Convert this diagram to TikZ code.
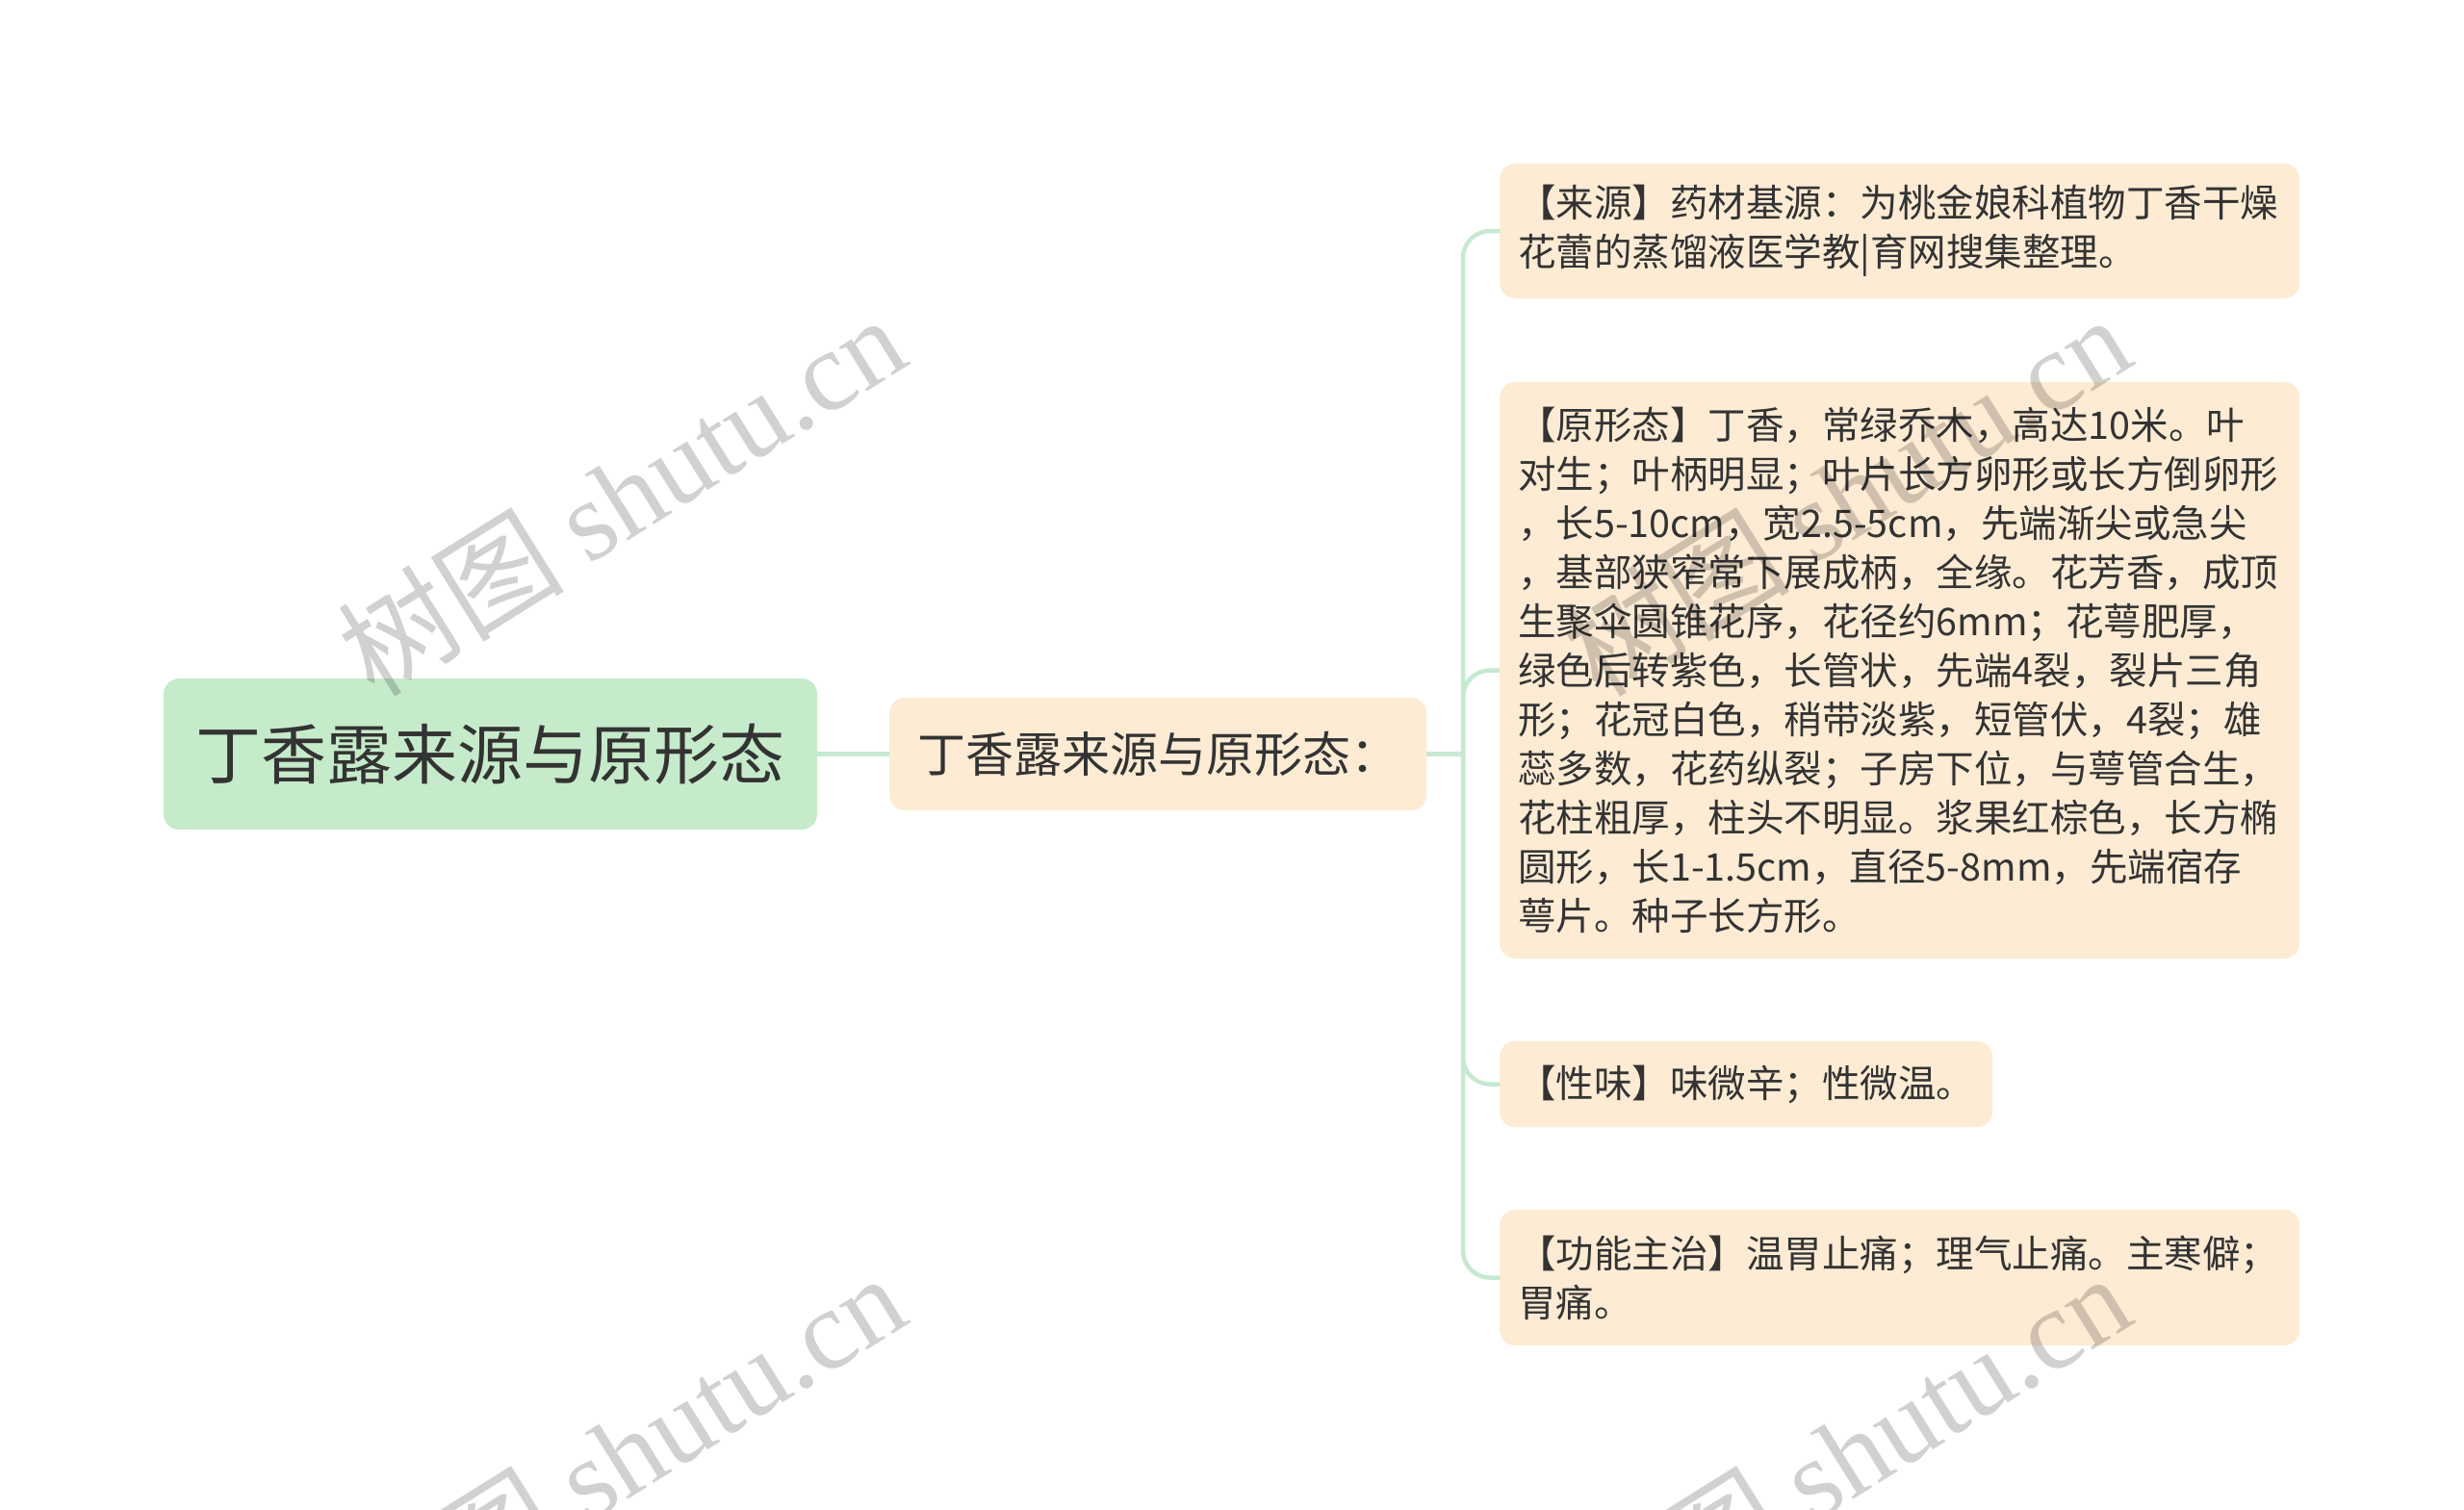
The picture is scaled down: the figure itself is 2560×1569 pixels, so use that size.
\documentclass[tikz,border=0pt]{standalone}
\usepackage{fontspec}
\setmainfont{Noto Sans CJK SC}
\newfontfamily\wmlatin{Liberation Serif}
\definecolor{rootfill}{HTML}{C6EBCB}
\definecolor{leaffill}{HTML}{FDEBD4}
\definecolor{linkgreen}{HTML}{C6E9D0}
\definecolor{bodytext}{HTML}{333333}

\begin{document}
\begin{tikzpicture}[x=1pt, y=-1pt,
	conn/.style={draw=linkgreen, line width=4.5pt, rounded corners=28pt},
	topic/.style={fill=rootfill, rounded corners=16pt, text=bodytext, font=\fontsize{68}{80}\selectfont, minimum width=679pt, minimum height=157pt, inner sep=0pt},
	sub/.style={fill=leaffill, rounded corners=16pt, text=bodytext, font=\fontsize{50}{60}\selectfont, minimum width=558pt, minimum height=117pt, inner sep=0pt},
	leaf/.style={fill=leaffill, rounded corners=16pt, text=bodytext, font=\fontsize{39.5}{51}\selectfont, inner xsep=19pt, inner ysep=0pt, align=left, anchor=west},
	wide/.style={leaf, text width=793pt},
	wmark/.style={text=black, text opacity=0.18, rotate=32, font=\fontsize{118}{130}\selectfont}]
	\useasboundingbox (0,0) rectangle (2560,1569);
	\node[topic] (root) at (509.5,783.5) {丁香露来源与原形态};
	\node[sub] (src) at (1203,783.5) {丁香露来源与原形态：};
	\coordinate (fork) at (1520,783.5);
	\node[wide, minimum height=140pt] (laiyuan) at (1558,240) {【来源】药材基源：为桃金娘科植物丁香干燥\\花蕾的蒸馏液医学教|育网搜集整理。};
	\node[wide, minimum height=599pt] (xingtai) at (1558,696.5) {【原形态】丁香，常绿乔木，高达10米。叶\\对生；叶柄明显；叶片长方卵形或长方倒卵形\\，长5-10cm，宽2.5-5cm，先端渐尖或急尖\\，基部狭窄常下展成柄，全缘。花芳香，成顶\\生聚伞圆锥花序，花径约6mm；花萼肥厚，\\绿色后转紫色，长管状，先端4裂，裂片三角\\形；花冠白色，稍带淡紫，短管伏，4裂；雄\\蕊多数，花药纵裂；子房下位，与萼管合生，\\花柱粗厚，柱头不明显。浆果红棕色，长方椭\\圆形，长1-1.5cm，直径5-8mm，先端宿存\\萼片。种子长方形。};
	\node[leaf, minimum height=89pt] (xingwei) at (1558,1126.5) {【性味】味微辛；性微温。};
	\node[wide, minimum height=141pt] (gongneng) at (1558,1327.5) {【功能主治】温胃止痛；理气止痛。主寒僻；\\胃痛。};
	\draw[conn] (root) -- (src);
	\draw[conn] (src) -- (fork);
	\foreach \n in {laiyuan,xingtai,xingwei,gongneng}
		\draw[conn] (fork) |- (\n.west);
	\begin{scope}
		\clip (0,0) rectangle (2560,1569);
		\foreach \wx/\wy in {645/514, 1918/514, 645/1510, 1918/1510}
			\node[wmark] (wm-\wx-\wy) at (\wx,\wy) {树图 {\wmlatin shutu.cn}};
	\end{scope}
\end{tikzpicture}
\end{document}
